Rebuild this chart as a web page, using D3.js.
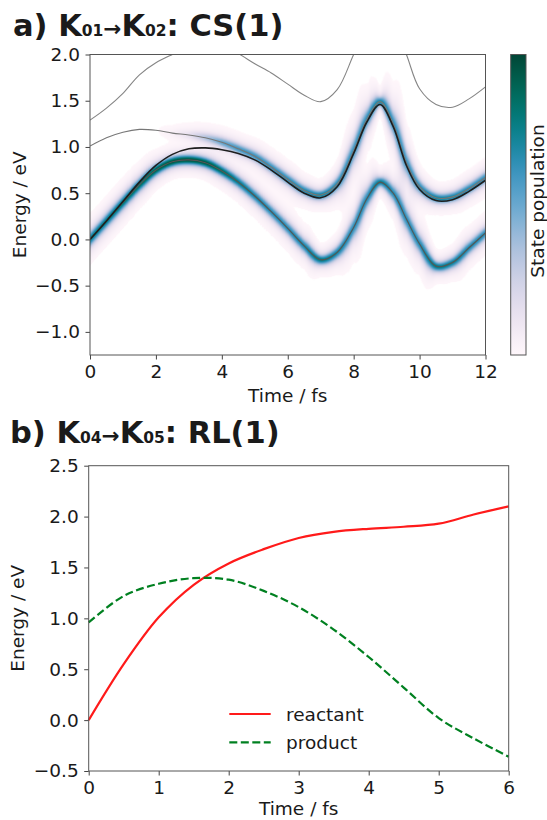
<!DOCTYPE html>
<html>
<head>
<meta charset="utf-8">
<script src="https://cdn.jsdelivr.net/npm/d3@7"></script>
<style>
  html, body { margin: 0; padding: 0; background: #ffffff; }
  svg text { font-family: "DejaVu Sans", sans-serif; fill: #1a1a1a; }
</style>
</head>
<body>
<div id="chart"></div>
<script>
// panel a: state energies and populations
var timeA = [0, 0.5, 1, 1.5, 2, 2.5, 3, 3.5, 4, 4.5, 5, 5.5, 6, 6.5, 7, 7.5, 8, 8.4, 8.8, 9.2, 9.6, 10, 10.5, 11, 11.5, 12];
var lowerA  = [0.00, 0.20, 0.40, 0.59, 0.75, 0.84, 0.86, 0.83, 0.74, 0.62, 0.47, 0.30, 0.12, -0.07, -0.22, -0.14, 0.13, 0.44, 0.62, 0.50, 0.22, -0.05, -0.29, -0.25, -0.09, 0.07];
var middleA = [1.01, 1.10, 1.16, 1.19, 1.18, 1.15, 1.13, 1.10, 1.05, 0.98, 0.90, 0.78, 0.65, 0.53, 0.48, 0.60, 0.96, 1.30, 1.49, 1.25, 0.83, 0.57, 0.45, 0.46, 0.55, 0.67];
var upperA  = [1.29, 1.42, 1.58, 1.78, 1.91, 2.00, 2.08, 2.12, 2.10, 2.01, 1.90, 1.80, 1.68, 1.56, 1.49, 1.62, 2.00, 2.30, 2.45, 2.35, 2.00, 1.63, 1.46, 1.43, 1.52, 1.65];
var trackA  = [0.00, 0.20, 0.41, 0.62, 0.80, 0.92, 0.98, 0.99, 0.97, 0.93, 0.86, 0.75, 0.62, 0.50, 0.45, 0.57, 0.93, 1.27, 1.46, 1.22, 0.80, 0.54, 0.42, 0.43, 0.52, 0.64];
var popLowerA  = [0.77, 0.79, 0.82, 0.86, 0.91, 0.96, 0.98, 0.95, 0.86, 0.76, 0.70, 0.67, 0.66, 0.70, 0.79, 0.71, 0.65, 0.67, 0.75, 0.67, 0.65, 0.67, 0.78, 0.74, 0.68, 0.66];
var popMiddleA = [0, 0, 0, 0, 0, 0.04, 0.14, 0.34, 0.52, 0.60, 0.62, 0.64, 0.65, 0.68, 0.73, 0.66, 0.62, 0.65, 0.71, 0.64, 0.62, 0.65, 0.73, 0.71, 0.66, 0.64];
var xTicksA = [0, 2, 4, 6, 8, 10, 12];
var yTicksA = [-1.0, -0.5, 0.0, 0.5, 1.0, 1.5, 2.0];

// panel b: diabatic energies
var timeB = [0, 0.5, 1, 1.5, 2, 2.5, 3, 3.5, 4, 4.5, 5, 5.5, 6];
var reactantB = [0.00, 0.55, 1.01, 1.33, 1.54, 1.68, 1.79, 1.85, 1.88, 1.90, 1.93, 2.02, 2.10];
var productB  = [0.96, 1.22, 1.34, 1.395, 1.38, 1.27, 1.11, 0.89, 0.62, 0.32, 0.02, -0.18, -0.36];
var xTicksB = [0, 1, 2, 3, 4, 5, 6];
var yTicksB = [-0.5, 0.0, 0.5, 1.0, 1.5, 2.0, 2.5];
var legendB = ["reactant", "product"];

var width = 547;
var height = 820;
var fontSize = 18.5;
var fmt = d3.format(".1f");

var svg = d3.select("#chart")
            .append("svg")
            .attr("width", width)
            .attr("height", height);

// bold title with small subscripts
function title(x, y, parts) {
    var t = svg.append("text")
               .attr("x", x)
               .attr("y", y)
               .style("font-weight", "bold")
               .style("font-size", "30.5px");
    parts.forEach(function(p) {
        t.append("tspan")
         .style("font-size", p[1] + "px")
         .text(p[0]);
    });
}

function drawAxes(g, x, y, xt, yt, xf, w, h, labelGap) {
    g.append("g")
     .attr("transform", "translate(0," + h + ")")
     .call(d3.axisBottom(x).tickValues(xt).tickFormat(xf).tickSize(4.5).tickPadding(5.5).tickSizeOuter(0));
    g.append("g")
     .call(d3.axisLeft(y).tickValues(yt).tickFormat(fmt).tickSize(4.5).tickPadding(5.5).tickSizeOuter(0));
    g.selectAll(".tick text").style("font-size", fontSize + "px").attr("fill", "#1a1a1a");
    g.selectAll(".tick line").attr("stroke", "#444");
    g.selectAll(".domain").remove();
    g.append("rect")
     .attr("width", w)
     .attr("height", h)
     .attr("fill", "none")
     .attr("stroke", "#555")
     .attr("stroke-width", 1);
    g.append("text")
     .attr("x", w / 2).attr("y", h + labelGap)
     .attr("text-anchor", "middle")
     .style("font-size", fontSize + "px")
     .text("Time / fs");
}

/**************************
 * panel a
 *************************/
var aL = 90, aR = 485.5, aT = 54.5, aB = 355;
var aW = aR - aL, aH = aB - aT;

title(13, 36, [["a) K", 30.5], ["01", 15.5], ["\u2192", 21.5], ["K", 30.5], ["02", 15.5], [": CS(1)", 30.5]]);

var xA = d3.scaleLinear().domain([0, 12]).range([0, aW]);
var yA = d3.scaleLinear().domain([-1.25, 2.0]).range([aH, 0]);

var gA = svg.append("g").attr("transform", "translate(" + aL + "," + aT + ")");

gA.append("clipPath").attr("id", "clipA")
  .append("rect").attr("width", aW).attr("height", aH);

var lineA = d3.line()
              .x(function(d) { return xA(d[0]); })
              .y(function(d) { return yA(d[1]); })
              .curve(d3.curveCatmullRom.alpha(0.5));

function pairs(ts, vs) { return ts.map(function(t, i) { return [t, vs[i]]; }); }

var heatLayer = gA.append("g").attr("clip-path", "url(#clipA)");
var linesA = gA.append("g").attr("clip-path", "url(#clipA)");

var pLower = linesA.append("path").attr("d", lineA(pairs(timeA, lowerA)))
                   .attr("fill", "none").attr("stroke", "#555").attr("stroke-width", 1.1);
var pMiddle = linesA.append("path").attr("d", lineA(pairs(timeA, middleA)))
                    .attr("fill", "none").attr("stroke", "#777").attr("stroke-width", 1.1);
linesA.append("path").attr("d", lineA(pairs(timeA, upperA)))
      .attr("fill", "none").attr("stroke", "#858585").attr("stroke-width", 1.1);
linesA.append("path").attr("d", lineA(pairs(timeA, trackA)))
      .attr("fill", "none").attr("stroke", "#1e1e1e").attr("stroke-width", 1.6);

// curve y position per raster column, read from the drawn path
function columnY(node, ncols, k) {
    var L = node.getTotalLength();
    var sum = new Float64Array(ncols), cnt = new Float64Array(ncols);
    for (var s = 0; s <= L; s += 0.25) {
        var p = node.getPointAtLength(s);
        var c = Math.floor(p.x * k);
        if (c >= 0 && c < ncols) { sum[c] += p.y * k; cnt[c] += 1; }
    }
    var out = new Float64Array(ncols), last = sum[0];
    for (var c = 0; c < ncols; c++) {
        out[c] = cnt[c] ? sum[c] / cnt[c] : last;
        last = out[c];
    }
    return out;
}

// population heat map: narrow core plus a faint halo across the curve
(function() {
    var k = 2;
    var nc = Math.round(aW * k), nr = Math.round(aH * k);
    var canvas = document.createElement("canvas");
    canvas.width = nc;
    canvas.height = nr;
    var ctx = canvas.getContext("2d");
    var img = ctx.createImageData(nc, nr);

    var states = [
        { y: columnY(pLower.node(), nc, k), pop: d3.scaleLinear().domain(timeA).range(popLowerA) },
        { y: columnY(pMiddle.node(), nc, k), pop: d3.scaleLinear().domain(timeA).range(popMiddleA) }
    ];
    states.forEach(function(s) {
        s.cos = new Float64Array(nc);
        for (var c = 0; c < nc; c++) {
            var c0 = Math.max(0, c - 3), c1 = Math.min(nc - 1, c + 3);
            var slope = (s.y[c1] - s.y[c0]) / (c1 - c0);
            s.cos[c] = 1 / Math.sqrt(1 + slope * slope);
        }
    });
    var core = 3.1 * k, halo = 6.5 * k;

    for (var c = 0; c < nc; c++) {
        var t = xA.invert((c + 0.5) / k);
        var pops = states.map(function(s) { return s.pop(t); });
        for (var r = 0; r < nr; r++) {
            var v = 0;
            for (var i = 0; i < states.length; i++) {
                var d = ((r + 0.5) - states[i].y[c]) * states[i].cos[c];
                var f = 0.72 * Math.exp(-d * d / (2 * core * core)) + 0.28 * Math.exp(-d * d / (2 * halo * halo));
                v += pops[i] * f;
            }
            if (v < 0.006) continue;
            v = Math.min(1, v);
            var col = d3.rgb(d3.interpolatePuBuGn(v));
            var idx = (r * nc + c) * 4;
            img.data[idx] = col.r;
            img.data[idx + 1] = col.g;
            img.data[idx + 2] = col.b;
            img.data[idx + 3] = 255;
        }
    }
    ctx.putImageData(img, 0, 0);
    heatLayer.append("image")
             .attr("href", canvas.toDataURL())
             .attr("width", aW)
             .attr("height", aH)
             .attr("preserveAspectRatio", "none");
})();

drawAxes(gA, xA, yA, xTicksA, yTicksA, d3.format("d"), aW, aH, 46.7);

svg.append("text")
   .attr("transform", "translate(25.5," + (aT + aH / 2) + ") rotate(-90)")
   .attr("text-anchor", "middle")
   .style("font-size", fontSize + "px")
   .text("Energy / eV");

// colorbar
var grad = svg.append("defs").append("linearGradient")
              .attr("id", "cbar")
              .attr("x1", 0).attr("y1", 1).attr("x2", 0).attr("y2", 0);
d3.range(0, 1.0001, 0.05).forEach(function(s) {
    grad.append("stop").attr("offset", s).attr("stop-color", d3.interpolatePuBuGn(s));
});
svg.append("rect")
   .attr("x", 510.7).attr("y", aT)
   .attr("width", 15.3).attr("height", aH)
   .attr("fill", "url(#cbar)")
   .attr("stroke", "#555").attr("stroke-width", 1);
svg.append("text")
   .attr("transform", "translate(543.5," + 201 + ") rotate(-90)")
   .attr("text-anchor", "middle")
   .style("font-size", fontSize + "px")
   .text("State population");

/**************************
 * panel b
 *************************/
var bL = 88.7, bR = 508.7, bT = 465.7, bB = 771;
var bW = bR - bL, bH = bB - bT;

title(10, 443.3, [["b) K", 30.5], ["04", 15.5], ["\u2192", 21.5], ["K", 30.5], ["05", 15.5], [": RL(1)", 30.5]]);

var xB = d3.scaleLinear().domain([0, 6]).range([0, bW]);
var yB = d3.scaleLinear().domain([-0.5, 2.5]).range([bH, 0]);

var gB = svg.append("g").attr("transform", "translate(" + bL + "," + bT + ")");

var lineB = d3.line()
              .x(function(d) { return xB(d[0]); })
              .y(function(d) { return yB(d[1]); })
              .curve(d3.curveCatmullRom.alpha(0.5));

gB.append("path").attr("d", lineB(pairs(timeB, reactantB)))
  .attr("fill", "none").attr("stroke", "#ff1a1a").attr("stroke-width", 2.2);
gB.append("path").attr("d", lineB(pairs(timeB, productB)))
  .attr("fill", "none").attr("stroke", "#008020").attr("stroke-width", 2.2)
  .attr("stroke-dasharray", "8,3.5");

drawAxes(gB, xB, yB, xTicksB, yTicksB, d3.format("d"), bW, bH, 44);

svg.append("text")
   .attr("transform", "translate(24," + (bT + bH / 2) + ") rotate(-90)")
   .attr("text-anchor", "middle")
   .style("font-size", fontSize + "px")
   .text("Energy / eV");

// legend
var legStyles = [
    { color: "#ff1a1a", dash: null },
    { color: "#008020", dash: "8,3.5" }
];
legendB.forEach(function(name, i) {
    var ly = 714 + i * 28.3;
    svg.append("line")
       .attr("x1", 229.3).attr("x2", 270.7)
       .attr("y1", ly).attr("y2", ly)
       .attr("stroke", legStyles[i].color)
       .attr("stroke-width", 2.2)
       .attr("stroke-dasharray", legStyles[i].dash);
    svg.append("text")
       .attr("x", 286).attr("y", ly + 6.6)
       .style("font-size", fontSize + "px")
       .text(name);
});
</script>
</body>
</html>
